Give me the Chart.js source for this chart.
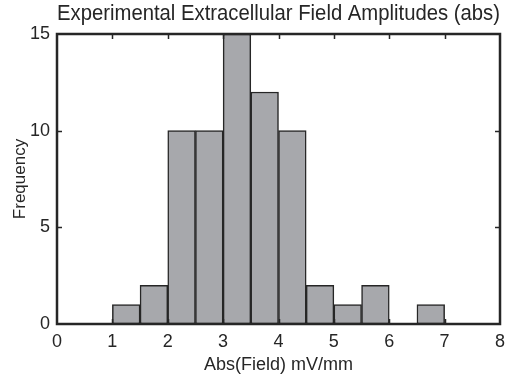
<!DOCTYPE html>
<html>
<head>
<meta charset="utf-8">
<script src="https://cdn.jsdelivr.net/npm/chart.js@4"></script>
<style>
html,body{margin:0;padding:0;background:#fff;}
#wrap{width:531px;height:376px;position:relative;}
</style>
</head>
<body>
<div id="wrap"><canvas id="c" width="531" height="376"></canvas></div>
<script>
const binCenters = [0.25,0.75,1.25,1.75,2.25,2.75,3.25,3.75,4.25,4.75,5.25,5.75,6.25,6.75,7.25,7.75];
const counts     = [0,   0,   1,   2,   10,  10,  15,  12,  10,  2,   1,   2,   0,   1,   0,   0];
const xTicks = [0,1,2,3,4,5,6,7,8];
const yTicks = [0,5,10,15];
const titleText = 'Experimental Extracellular Field Amplitudes (abs)';
const xLabel = 'Abs(Field) mV/mm';
const yLabel = 'Frequency';

const FONT = '"Liberation Sans", Arial, sans-serif';
const INK = '#262626';

const framePlugin = {
  id: 'frame',
  afterDatasetsDraw(chart) {
    const {ctx, chartArea: a, scales} = chart;
    ctx.save();
    ctx.strokeStyle = INK;
    ctx.lineWidth = 1.5;
    const L = 5;
    ctx.beginPath();
    xTicks.forEach(v => {
      const px = Math.round(scales.x.getPixelForValue(v)) + 0.5;
      if (v === xTicks[0] || v === xTicks[xTicks.length-1]) return;
      ctx.moveTo(px, a.bottom); ctx.lineTo(px, a.bottom - L);
      ctx.moveTo(px, a.top); ctx.lineTo(px, a.top + L);
    });
    yTicks.forEach(v => {
      const py = Math.round(scales.y.getPixelForValue(v)) + 0.5;
      if (v === yTicks[0] || v === yTicks[yTicks.length-1]) return;
      ctx.moveTo(a.left, py); ctx.lineTo(a.left + L, py);
      ctx.moveTo(a.right, py); ctx.lineTo(a.right - L, py);
    });
    ctx.stroke();
    ctx.lineWidth = 2.5;
    ctx.strokeRect(a.left, a.top, a.right - a.left, a.bottom - a.top);
    ctx.restore();
  }
};

new Chart(document.getElementById('c'), {
  type: 'bar',
  data: {
    datasets: [{
      data: binCenters.map((x, i) => ({x: x, y: counts[i]})),
      backgroundColor: '#a7a8ac',
      borderColor: INK,
      borderWidth: 1.5,
      borderSkipped: false,
      barPercentage: 1,
      categoryPercentage: 1
    }]
  },
  options: {
    responsive: false,
    animation: false,
    layout: {padding: {left: 0, right: 31, top: 0, bottom: 0}},
    plugins: {
      legend: {display: false},
      tooltip: {enabled: false},
      title: {
        display: true,
        text: titleText,
        color: INK,
        fullSize: false,
        font: {family: FONT, size: 22, weight: 'normal', lineHeight: 1.2},
        padding: {top: 0.5, bottom: 7.1}
      }
    },
    scales: {
      x: {
        type: 'linear',
        min: 0, max: 8,
        offset: false,
        afterBuildTicks: s => { s.ticks = xTicks.map(v => ({value: v})); },
        grid: {display: false, drawTicks: false},
        border: {display: false},
        ticks: {color: INK, padding: 7, font: {family: FONT, size: 18}, maxRotation: 0},
        title: {display: true, text: xLabel, color: INK, padding: {top: 0, bottom: 0}, font: {family: FONT, size: 18}},
        afterFit: s => { s.height = 52; }
      },
      y: {
        min: 0, max: 15,
        afterBuildTicks: s => { s.ticks = yTicks.map(v => ({value: v})); },
        grid: {display: false, drawTicks: false},
        border: {display: false},
        ticks: {color: INK, padding: 7, font: {family: FONT, size: 18}},
        title: {display: true, text: yLabel, color: INK, padding: {top: 10, bottom: 0}, font: {family: FONT, size: 17}},
        afterFit: s => { s.width = 57; }
      }
    }
  },
  plugins: [framePlugin]
});
</script>
</body>
</html>
